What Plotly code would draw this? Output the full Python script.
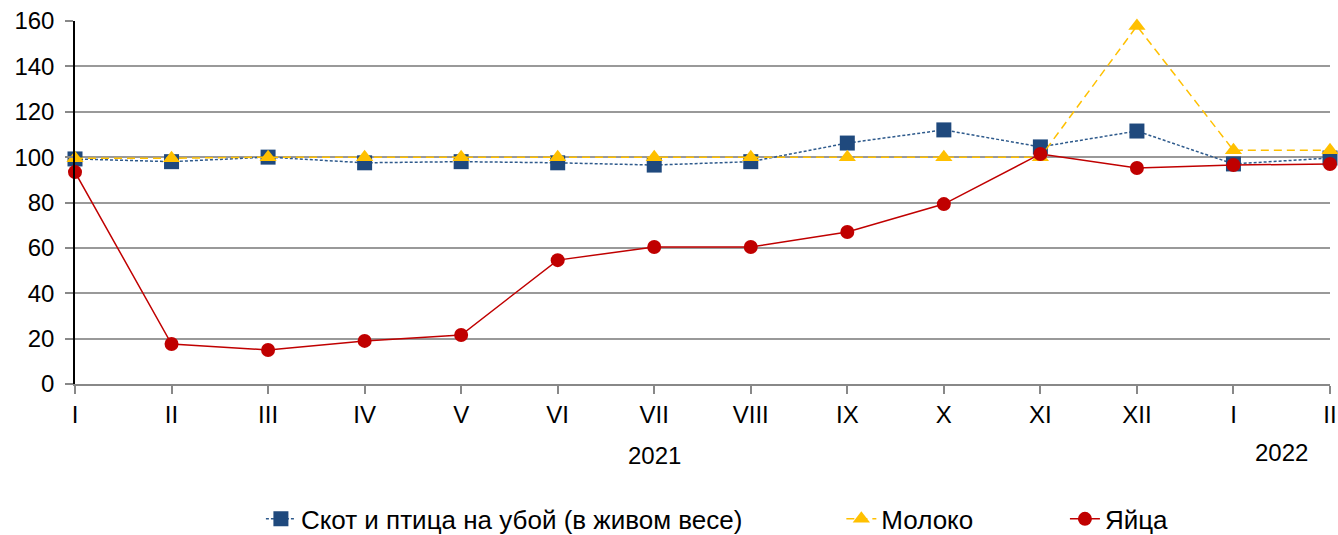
import plotly.graph_objects as go

months = ["I", "II", "III", "IV", "V", "VI", "VII", "VIII", "IX", "X", "XI", "XII", "I", "II"]
livestock = [99.2, 98.0, 100.0, 97.5, 98.0, 97.5, 96.5, 98.0, 106.2, 112.0, 104.5, 111.5, 97.0, 99.6]
milk = [99.5, 99.5, 100.0, 100.0, 100.0, 100.0, 100.0, 100.0, 100.0, 100.0, 100.0, 157.8, 103.0, 103.0]
eggs = [93.4, 17.6, 15.0, 19.0, 21.6, 54.6, 60.4, 60.4, 67.0, 79.3, 101.4, 95.2, 96.5, 97.0]
years = ["2021", "2022"]
year_pos = [6, 12.5]
names = ["Скот и птица на убой (в живом весе)", "Молоко", "Яйца"]

x = list(range(len(months)))
FONT = "Liberation Sans, Arial, sans-serif"
FS = 24

fig = go.Figure()
fig.add_trace(go.Scatter(
    x=x, y=livestock, name=names[0] + "\u00a0" * 13, mode="lines+markers", cliponaxis=False,
    line=dict(color="#2E5A8C", width=1.5, dash="3px,2px"),
    marker=dict(symbol="square", size=15, color="#1F497D")))
fig.add_trace(go.Scatter(
    x=x, y=milk, name=names[1] + "\u00a0" * 12, mode="lines+markers", cliponaxis=False,
    line=dict(color="#FFC000", width=1.5, dash="8px,5px"),
    marker=dict(symbol="triangle-up", size=15, color="#FFC000")))
fig.add_trace(go.Scatter(
    x=x, y=eggs, name=names[2], mode="lines+markers", cliponaxis=False,
    line=dict(color="#C00000", width=1.5),
    marker=dict(symbol="circle", size=14, color="#C00000")))

year_y = [-0.198, -0.19]
for yr, pos, yy in zip(years, year_pos, year_y):
    fig.add_annotation(x=pos, y=yy, xref="x", yref="paper", text=yr, yanchor="middle",
                       showarrow=False, font=dict(size=FS, color="#000", family=FONT))

fig.update_layout(
    width=1338, height=535,
    margin=dict(l=75, r=8, t=21, b=151, autoexpand=False),
    paper_bgcolor="white", plot_bgcolor="white",
    font=dict(family=FONT, size=FS, color="#000"),
    showlegend=True,
    legend=dict(orientation="h", x=0.195, xanchor="left", xref="container",
                y=0.03, yanchor="middle", yref="container",
                font=dict(size=26, family=FONT), tracegroupgap=0),
)
fig.update_xaxes(
    range=[0, 13], tickvals=x, ticktext=months, showgrid=False, zeroline=False,
    showline=True, linecolor="#888", linewidth=2, ticks="outside", ticklen=8,
    tickcolor="#888", tickwidth=1.5, tickfont=dict(size=FS, family=FONT),
    automargin=False)
fig.update_yaxes(
    range=[0, 160], dtick=20, showgrid=True, gridcolor="#999", gridwidth=2,
    zeroline=False, showline=True, linecolor="#000", linewidth=1.5,
    ticks="outside", ticklen=8, tickcolor="#888", tickwidth=1.5,
    ticklabelstandoff=6,
    tickfont=dict(size=FS, family=FONT), automargin=False)

fig.write_html("out.html", config={"displayModeBar": False},
               post_script="document.body.style.margin='0';document.body.style.padding='0';")
